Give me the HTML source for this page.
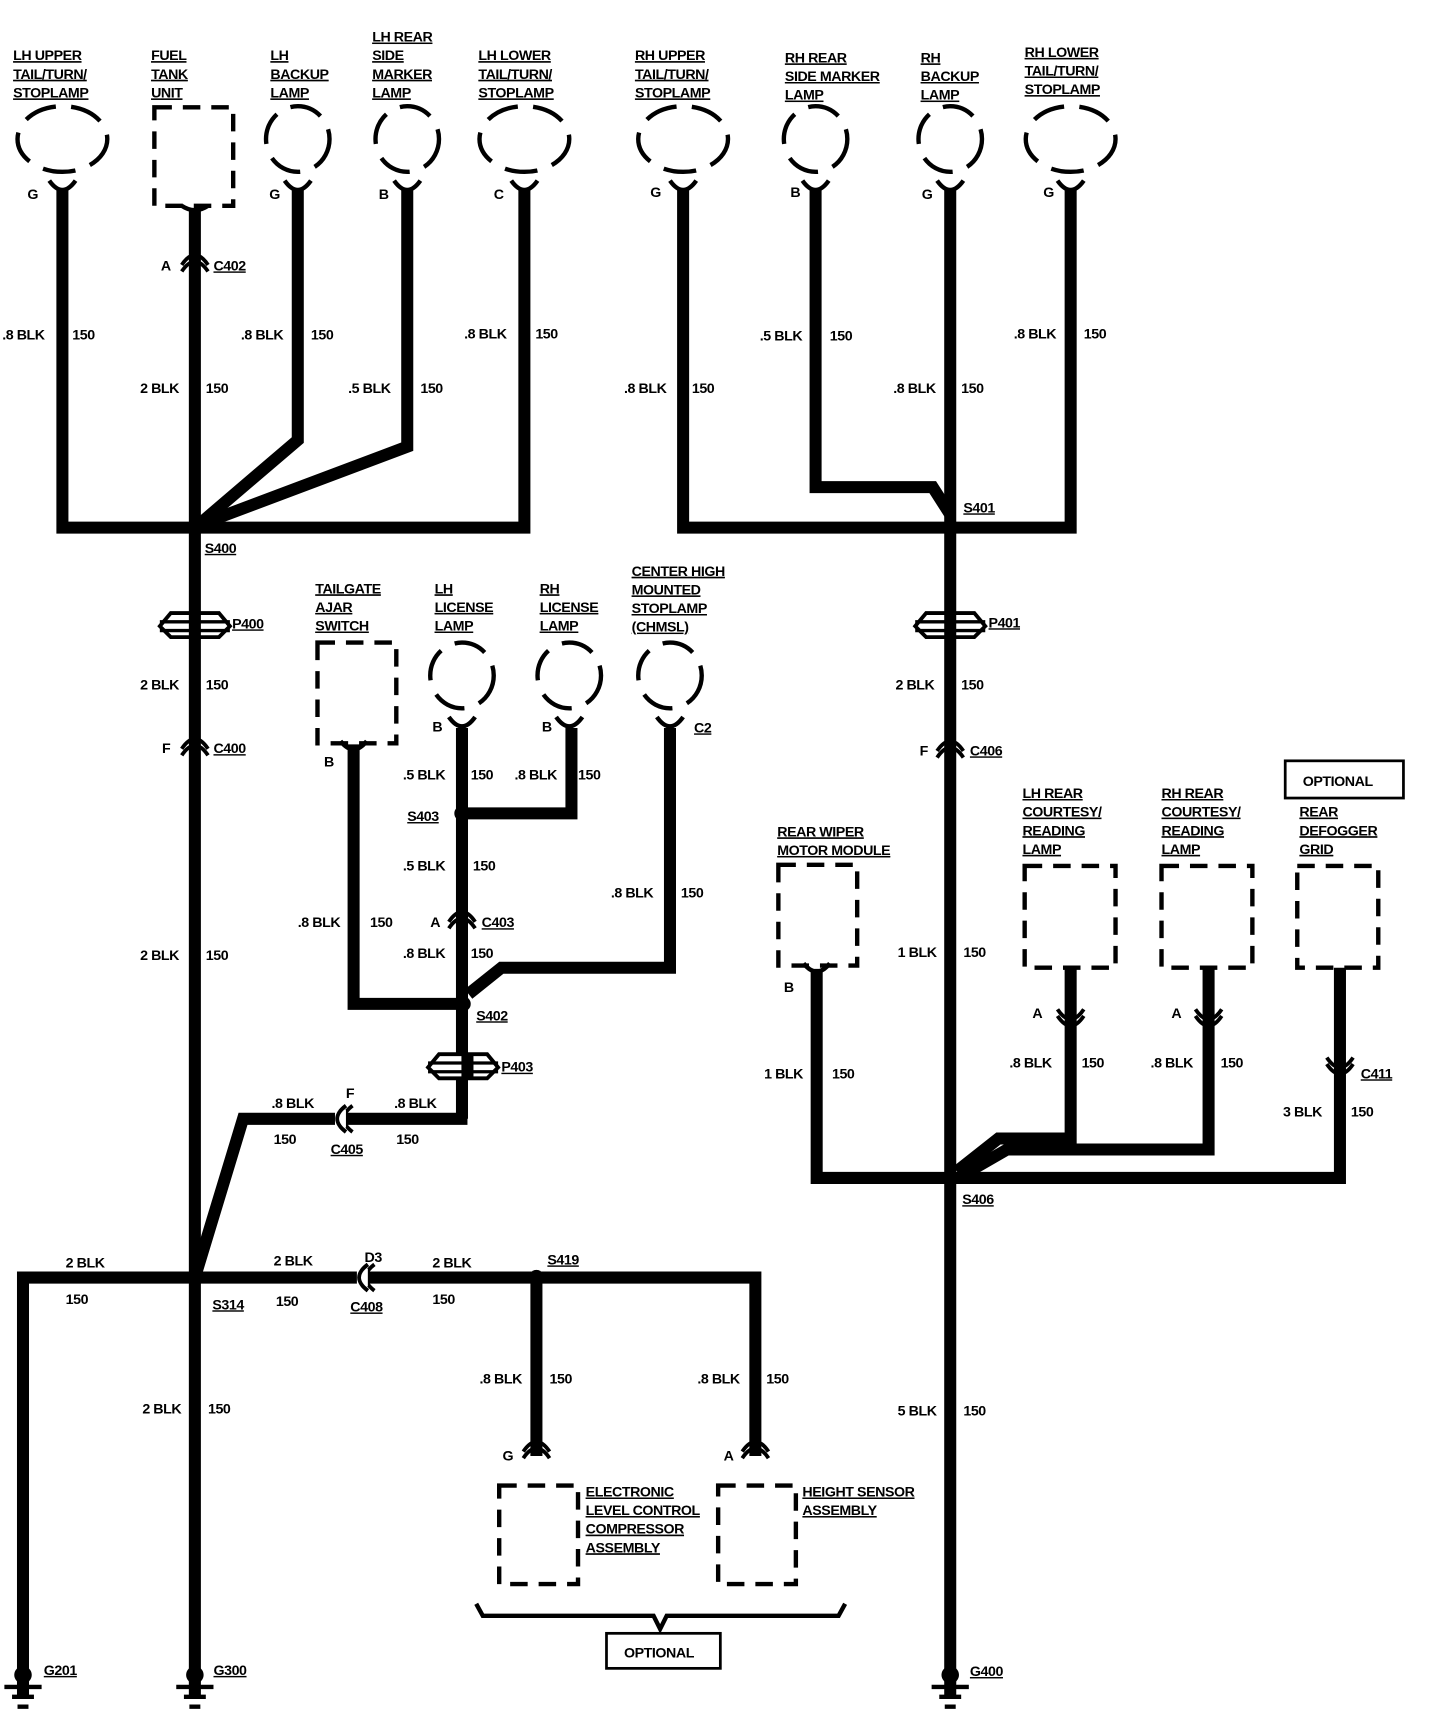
<!DOCTYPE html>
<html><head><meta charset="utf-8"><style>
html,body{margin:0;padding:0;background:#fff}
svg{display:block}
text{font-family:"Liberation Sans",sans-serif;font-weight:bold;font-size:13px;fill:#000;letter-spacing:-0.4px}
.u{text-decoration:underline}
</style></head><body>
<svg width="1456" height="1722" viewBox="0 0 1330 1573" xmlns="http://www.w3.org/2000/svg">
<rect width="1330" height="1573" fill="#fff"/>
<g fill="none" stroke="#000" stroke-width="11" stroke-linejoin="miter">
<!-- left group -->
<polyline points="57,172 57,482 479,482 479,172"/>
<line x1="178" y1="190" x2="178" y2="1552"/>
<polyline points="272,172 272,402 183,478"/>
<polyline points="372,172 372,408 186,478"/>
<!-- middle -->
<polyline points="323,680 323,917 423,917"/>
<line x1="422" y1="665" x2="422" y2="1022"/>
<polyline points="422,743 522,743 522,665"/>
<polyline points="612,665 612,884 458,884 428,908"/>
<polyline points="178,1167 222,1022 427,1022"/>
<polyline points="21,1552 21,1167 690,1167 690,1330"/>
<line x1="490" y1="1167" x2="490" y2="1330"/>
<!-- right -->
<polyline points="624,172 624,482 978,482 978,172"/>
<polyline points="745,172 745,445 852,445 868,470"/>
<line x1="868" y1="172" x2="868" y2="1552"/>
<polyline points="746,885 746,1076 1224,1076 1224,884"/>
<polyline points="978,884 978,1040 912,1040 874,1070"/>
<polyline points="1104,884 1104,1050 920,1050 880,1073"/>
</g>
<!-- splice dots -->
<g fill="#000">
<circle cx="178" cy="482" r="7"/><circle cx="868" cy="482" r="7"/>
<circle cx="422" cy="743" r="7"/><circle cx="423" cy="917" r="7"/>
<circle cx="178" cy="1167" r="7"/><circle cx="490" cy="1167" r="7"/>
<circle cx="868" cy="1076" r="7"/>
</g>
<!-- lamps -->
<g fill="none" stroke="#000" stroke-width="4" stroke-dasharray="30 14">
<ellipse cx="57" cy="127" rx="41" ry="30"/>
<ellipse cx="272" cy="127" rx="29" ry="30"/>
<ellipse cx="372" cy="127" rx="29" ry="30"/>
<ellipse cx="479" cy="127" rx="41" ry="30"/>
<ellipse cx="624" cy="127" rx="41" ry="30"/>
<ellipse cx="745" cy="127" rx="29" ry="30"/>
<ellipse cx="868" cy="127" rx="29" ry="30"/>
<ellipse cx="978" cy="127" rx="41" ry="30"/>
<ellipse cx="422" cy="617" rx="29" ry="30"/>
<ellipse cx="520" cy="617" rx="29" ry="30"/>
<ellipse cx="612" cy="617" rx="29" ry="30"/>
</g>
<!-- lamp Y connectors -->
<g fill="none" stroke="#000" stroke-width="4">
<path d="M45,165 Q57,182 69,165"/><path d="M260,165 Q272,182 284,165"/>
<path d="M360,165 Q372,182 384,165"/><path d="M467,165 Q479,182 491,165"/>
<path d="M612,165 Q624,182 636,165"/><path d="M733,165 Q745,182 757,165"/>
<path d="M856,165 Q868,182 880,165"/><path d="M966,165 Q978,182 990,165"/>
<path d="M410,655 Q422,672 434,655"/><path d="M508,655 Q520,672 532,655"/>
<path d="M600,655 Q612,672 624,655"/>
<path d="M311,677 Q323,692 335,677"/><path d="M734,880 Q746,895 758,880"/>
<path d="M166,188 Q178,196 190,188"/>
</g>
<!-- dashed boxes -->
<g fill="none" stroke="#000" stroke-width="4" stroke-dasharray="16 10">
<rect x="141" y="98" width="72" height="90"/>
<rect x="290" y="587" width="72" height="92"/>
<rect x="711" y="790" width="72" height="92"/>
<rect x="936" y="791" width="83" height="93"/>
<rect x="1061" y="791" width="83" height="93"/>
<rect x="1185" y="791" width="74" height="93"/>
<rect x="456" y="1357" width="72" height="90"/>
<rect x="656" y="1357" width="71" height="90"/>
</g>
<!-- inline connectors (vertical) -->
<g fill="none" stroke="#000" stroke-width="3.5">
<path d="M166,248 Q178,230 190,248"/><path d="M166,242 Q178,224 190,242"/>
<path d="M166,690 Q178,672 190,690"/><path d="M166,684 Q178,666 190,684"/>
<path d="M856,692 Q868,674 880,692"/><path d="M856,686 Q868,668 880,686"/>
<path d="M410,848 Q422,830 434,848"/><path d="M410,842 Q422,824 434,842"/>
<path d="M966,922 Q978,940 990,922"/><path d="M966,928 Q978,946 990,928"/>
<path d="M1092,922 Q1104,940 1116,922"/><path d="M1092,928 Q1104,946 1116,928"/>
<path d="M1212,966 Q1224,984 1236,966"/><path d="M1212,972 Q1224,990 1236,972"/>
<path d="M478,1332 Q490,1314 502,1332"/><path d="M478,1326 Q490,1308 502,1326"/>
<path d="M678,1332 Q690,1314 702,1332"/><path d="M678,1326 Q690,1308 702,1326"/>
<!-- horizontal -->
<path d="M316,1010 Q300,1022 316,1034"/><path d="M322,1010 Q306,1022 322,1034"/>
<path d="M336,1155 Q320,1167 336,1179"/><path d="M342,1155 Q326,1167 342,1179"/>
</g>
<g fill="#fff" stroke="none">
<rect x="306" y="1014" width="10" height="16"/><rect x="326" y="1159" width="10" height="16"/>
</g>
<g fill="none" stroke="#000" stroke-width="3.5">
<path d="M316,1010 Q300,1022 316,1034"/><path d="M336,1155 Q320,1167 336,1179"/>
</g>
<!-- pass-throughs -->
<g fill="#fff" stroke="#000" stroke-width="3.5">
<path d="M156,560 L200,560 L210,572 L200,582 L156,582 L146,572 Z"/>
<path d="M846,560 L890,560 L900,572 L890,582 L846,582 L836,572 Z"/>
<path d="M401,963 L445,963 L455,975 L445,985 L401,985 L391,975 Z"/>
</g>
<g stroke="#000" stroke-width="3">
<line x1="146" y1="568" x2="210" y2="568"/><line x1="146" y1="576" x2="210" y2="576"/>
<line x1="836" y1="568" x2="900" y2="568"/><line x1="836" y1="576" x2="900" y2="576"/>
<line x1="391" y1="971" x2="455" y2="971"/><line x1="391" y1="979" x2="455" y2="979"/>
</g>
<g stroke="#000" stroke-width="11">
<line x1="178" y1="560" x2="178" y2="582"/><line x1="868" y1="560" x2="868" y2="582"/><line x1="427" y1="963" x2="427" y2="985"/>
</g>
<!-- grounds -->
<g fill="#000" stroke="#000" stroke-width="4">
<circle cx="21" cy="1530" r="6"/><line x1="4" y1="1541" x2="38" y2="1541"/><line x1="11" y1="1550" x2="31" y2="1550"/><line x1="16" y1="1559" x2="26" y2="1559"/>
<circle cx="178" cy="1530" r="6"/><line x1="161" y1="1541" x2="195" y2="1541"/><line x1="168" y1="1550" x2="188" y2="1550"/><line x1="173" y1="1559" x2="183" y2="1559"/>
<circle cx="868" cy="1530" r="6"/><line x1="851" y1="1541" x2="885" y2="1541"/><line x1="858" y1="1550" x2="878" y2="1550"/><line x1="863" y1="1559" x2="873" y2="1559"/>
</g>
<!-- brace and optional boxes -->
<g fill="none" stroke="#000" stroke-width="4">
<polyline points="435,1465 441,1476 597,1476 603,1488 609,1476 766,1476 772,1465"/>
<rect x="554" y="1492" width="104" height="32" stroke-width="2.5"/>
<rect x="1174" y="695" width="108" height="34" stroke-width="2.5"/>
</g>
<!-- top labels -->
<g class="u">
<text x="12" y="55" class="u">LH UPPER</text><text x="12" y="72" class="u">TAIL/TURN/</text><text x="12" y="89" class="u">STOPLAMP</text>
<text x="138" y="55" class="u">FUEL</text><text x="138" y="72" class="u">TANK</text><text x="138" y="89" class="u">UNIT</text>
<text x="247" y="55" class="u">LH</text><text x="247" y="72" class="u">BACKUP</text><text x="247" y="89" class="u">LAMP</text>
<text x="340" y="38" class="u">LH REAR</text><text x="340" y="55" class="u">SIDE</text><text x="340" y="72" class="u">MARKER</text><text x="340" y="89" class="u">LAMP</text>
<text x="437" y="55" class="u">LH LOWER</text><text x="437" y="72" class="u">TAIL/TURN/</text><text x="437" y="89" class="u">STOPLAMP</text>
<text x="580" y="55" class="u">RH UPPER</text><text x="580" y="72" class="u">TAIL/TURN/</text><text x="580" y="89" class="u">STOPLAMP</text>
<text x="717" y="57" class="u">RH REAR</text><text x="717" y="74" class="u">SIDE MARKER</text><text x="717" y="91" class="u">LAMP</text>
<text x="841" y="57" class="u">RH</text><text x="841" y="74" class="u">BACKUP</text><text x="841" y="91" class="u">LAMP</text>
<text x="936" y="52" class="u">RH LOWER</text><text x="936" y="69" class="u">TAIL/TURN/</text><text x="936" y="86" class="u">STOPLAMP</text>
<text x="288" y="542" class="u">TAILGATE</text><text x="288" y="559" class="u">AJAR</text><text x="288" y="576" class="u">SWITCH</text>
<text x="397" y="542" class="u">LH</text><text x="397" y="559" class="u">LICENSE</text><text x="397" y="576" class="u">LAMP</text>
<text x="493" y="542" class="u">RH</text><text x="493" y="559" class="u">LICENSE</text><text x="493" y="576" class="u">LAMP</text>
<text x="577" y="526" class="u">CENTER HIGH</text><text x="577" y="543" class="u">MOUNTED</text><text x="577" y="560" class="u">STOPLAMP</text><text x="577" y="577">(CHMSL)</text>
<text x="710" y="764" class="u">REAR WIPER</text><text x="710" y="781" class="u">MOTOR MODULE</text>
<text x="934" y="729" class="u">LH REAR</text><text x="934" y="746" class="u">COURTESY/</text><text x="934" y="763" class="u">READING</text><text x="934" y="780" class="u">LAMP</text>
<text x="1061" y="729" class="u">RH REAR</text><text x="1061" y="746" class="u">COURTESY/</text><text x="1061" y="763" class="u">READING</text><text x="1061" y="780" class="u">LAMP</text>
<text x="1187" y="746" class="u">REAR</text><text x="1187" y="763" class="u">DEFOGGER</text><text x="1187" y="780" class="u">GRID</text>
<text x="535" y="1367" class="u">ELECTRONIC</text><text x="535" y="1384" class="u">LEVEL CONTROL</text><text x="535" y="1401" class="u">COMPRESSOR</text><text x="535" y="1418" class="u">ASSEMBLY</text>
<text x="733" y="1367" class="u">HEIGHT SENSOR</text><text x="733" y="1384" class="u">ASSEMBLY</text>
</g>
<text x="1190" y="718">OPTIONAL</text>
<text x="570" y="1514">OPTIONAL</text>
<!-- pin letters -->
<text x="25" y="182">G</text><text x="246" y="182">G</text><text x="346" y="182">B</text><text x="451" y="182">C</text>
<text x="594" y="180">G</text><text x="722" y="180">B</text><text x="842" y="182">G</text><text x="953" y="180">G</text>
<text x="147" y="247">A</text><text x="148" y="688">F</text><text x="840" y="690">F</text>
<text x="296" y="700">B</text><text x="395" y="668">B</text><text x="495" y="668">B</text>
<text x="393" y="847">A</text><text x="316" y="1003">F</text><text x="333" y="1153">D3</text>
<text x="716" y="906">B</text><text x="943" y="930">A</text><text x="1070" y="930">A</text>
<text x="459" y="1334">G</text><text x="661" y="1334">A</text>
<!-- connector / splice names -->
<g>
<text x="195" y="247" class="u">C402</text><text x="187" y="505" class="u">S400</text><text x="212" y="574" class="u">P400</text>
<text x="195" y="688" class="u">C400</text><text x="634" y="669" class="u">C2</text><text x="372" y="750" class="u">S403</text>
<text x="440" y="847" class="u">C403</text><text x="435" y="932" class="u">S402</text><text x="458" y="979" class="u">P403</text>
<text x="302" y="1054" class="u">C405</text><text x="194" y="1196" class="u">S314</text><text x="320" y="1198" class="u">C408</text>
<text x="500" y="1155" class="u">S419</text><text x="880" y="468" class="u">S401</text><text x="903" y="573" class="u">P401</text>
<text x="886" y="690" class="u">C406</text><text x="1243" y="985" class="u">C411</text><text x="879" y="1100" class="u">S406</text>
<text x="40" y="1530" class="u">G201</text><text x="195" y="1530" class="u">G300</text><text x="886" y="1531" class="u">G400</text>
</g>
<!-- wire labels -->
<text x="2" y="310">.8 BLK</text><text x="66" y="310">150</text>
<text x="128" y="359">2 BLK</text><text x="188" y="359">150</text>
<text x="220" y="310">.8 BLK</text><text x="284" y="310">150</text>
<text x="318" y="359">.5 BLK</text><text x="384" y="359">150</text>
<text x="424" y="309">.8 BLK</text><text x="489" y="309">150</text>
<text x="694" y="311">.5 BLK</text><text x="758" y="311">150</text>
<text x="926" y="309">.8 BLK</text><text x="990" y="309">150</text>
<text x="570" y="359">.8 BLK</text><text x="632" y="359">150</text>
<text x="816" y="359">.8 BLK</text><text x="878" y="359">150</text>
<text x="128" y="630">2 BLK</text><text x="188" y="630">150</text>
<text x="818" y="630">2 BLK</text><text x="878" y="630">150</text>
<text x="128" y="877">2 BLK</text><text x="188" y="877">150</text>
<text x="820" y="874">1 BLK</text><text x="880" y="874">150</text>
<text x="368" y="712">.5 BLK</text><text x="430" y="712">150</text>
<text x="470" y="712">.8 BLK</text><text x="528" y="712">150</text>
<text x="368" y="795">.5 BLK</text><text x="432" y="795">150</text>
<text x="558" y="820">.8 BLK</text><text x="622" y="820">150</text>
<text x="272" y="847">.8 BLK</text><text x="338" y="847">150</text>
<text x="368" y="875">.8 BLK</text><text x="430" y="875">150</text>
<text x="248" y="1012">.8 BLK</text><text x="250" y="1045">150</text>
<text x="360" y="1012">.8 BLK</text><text x="362" y="1045">150</text>
<text x="60" y="1158">2 BLK</text><text x="60" y="1191">150</text>
<text x="250" y="1156">2 BLK</text><text x="252" y="1193">150</text>
<text x="395" y="1158">2 BLK</text><text x="395" y="1191">150</text>
<text x="130" y="1291">2 BLK</text><text x="190" y="1291">150</text>
<text x="438" y="1264">.8 BLK</text><text x="502" y="1264">150</text>
<text x="637" y="1264">.8 BLK</text><text x="700" y="1264">150</text>
<text x="820" y="1293">5 BLK</text><text x="880" y="1293">150</text>
<text x="698" y="985">1 BLK</text><text x="760" y="985">150</text>
<text x="922" y="975">.8 BLK</text><text x="988" y="975">150</text>
<text x="1051" y="975">.8 BLK</text><text x="1115" y="975">150</text>
<text x="1172" y="1020">3 BLK</text><text x="1234" y="1020">150</text>
</svg>
</body></html>
